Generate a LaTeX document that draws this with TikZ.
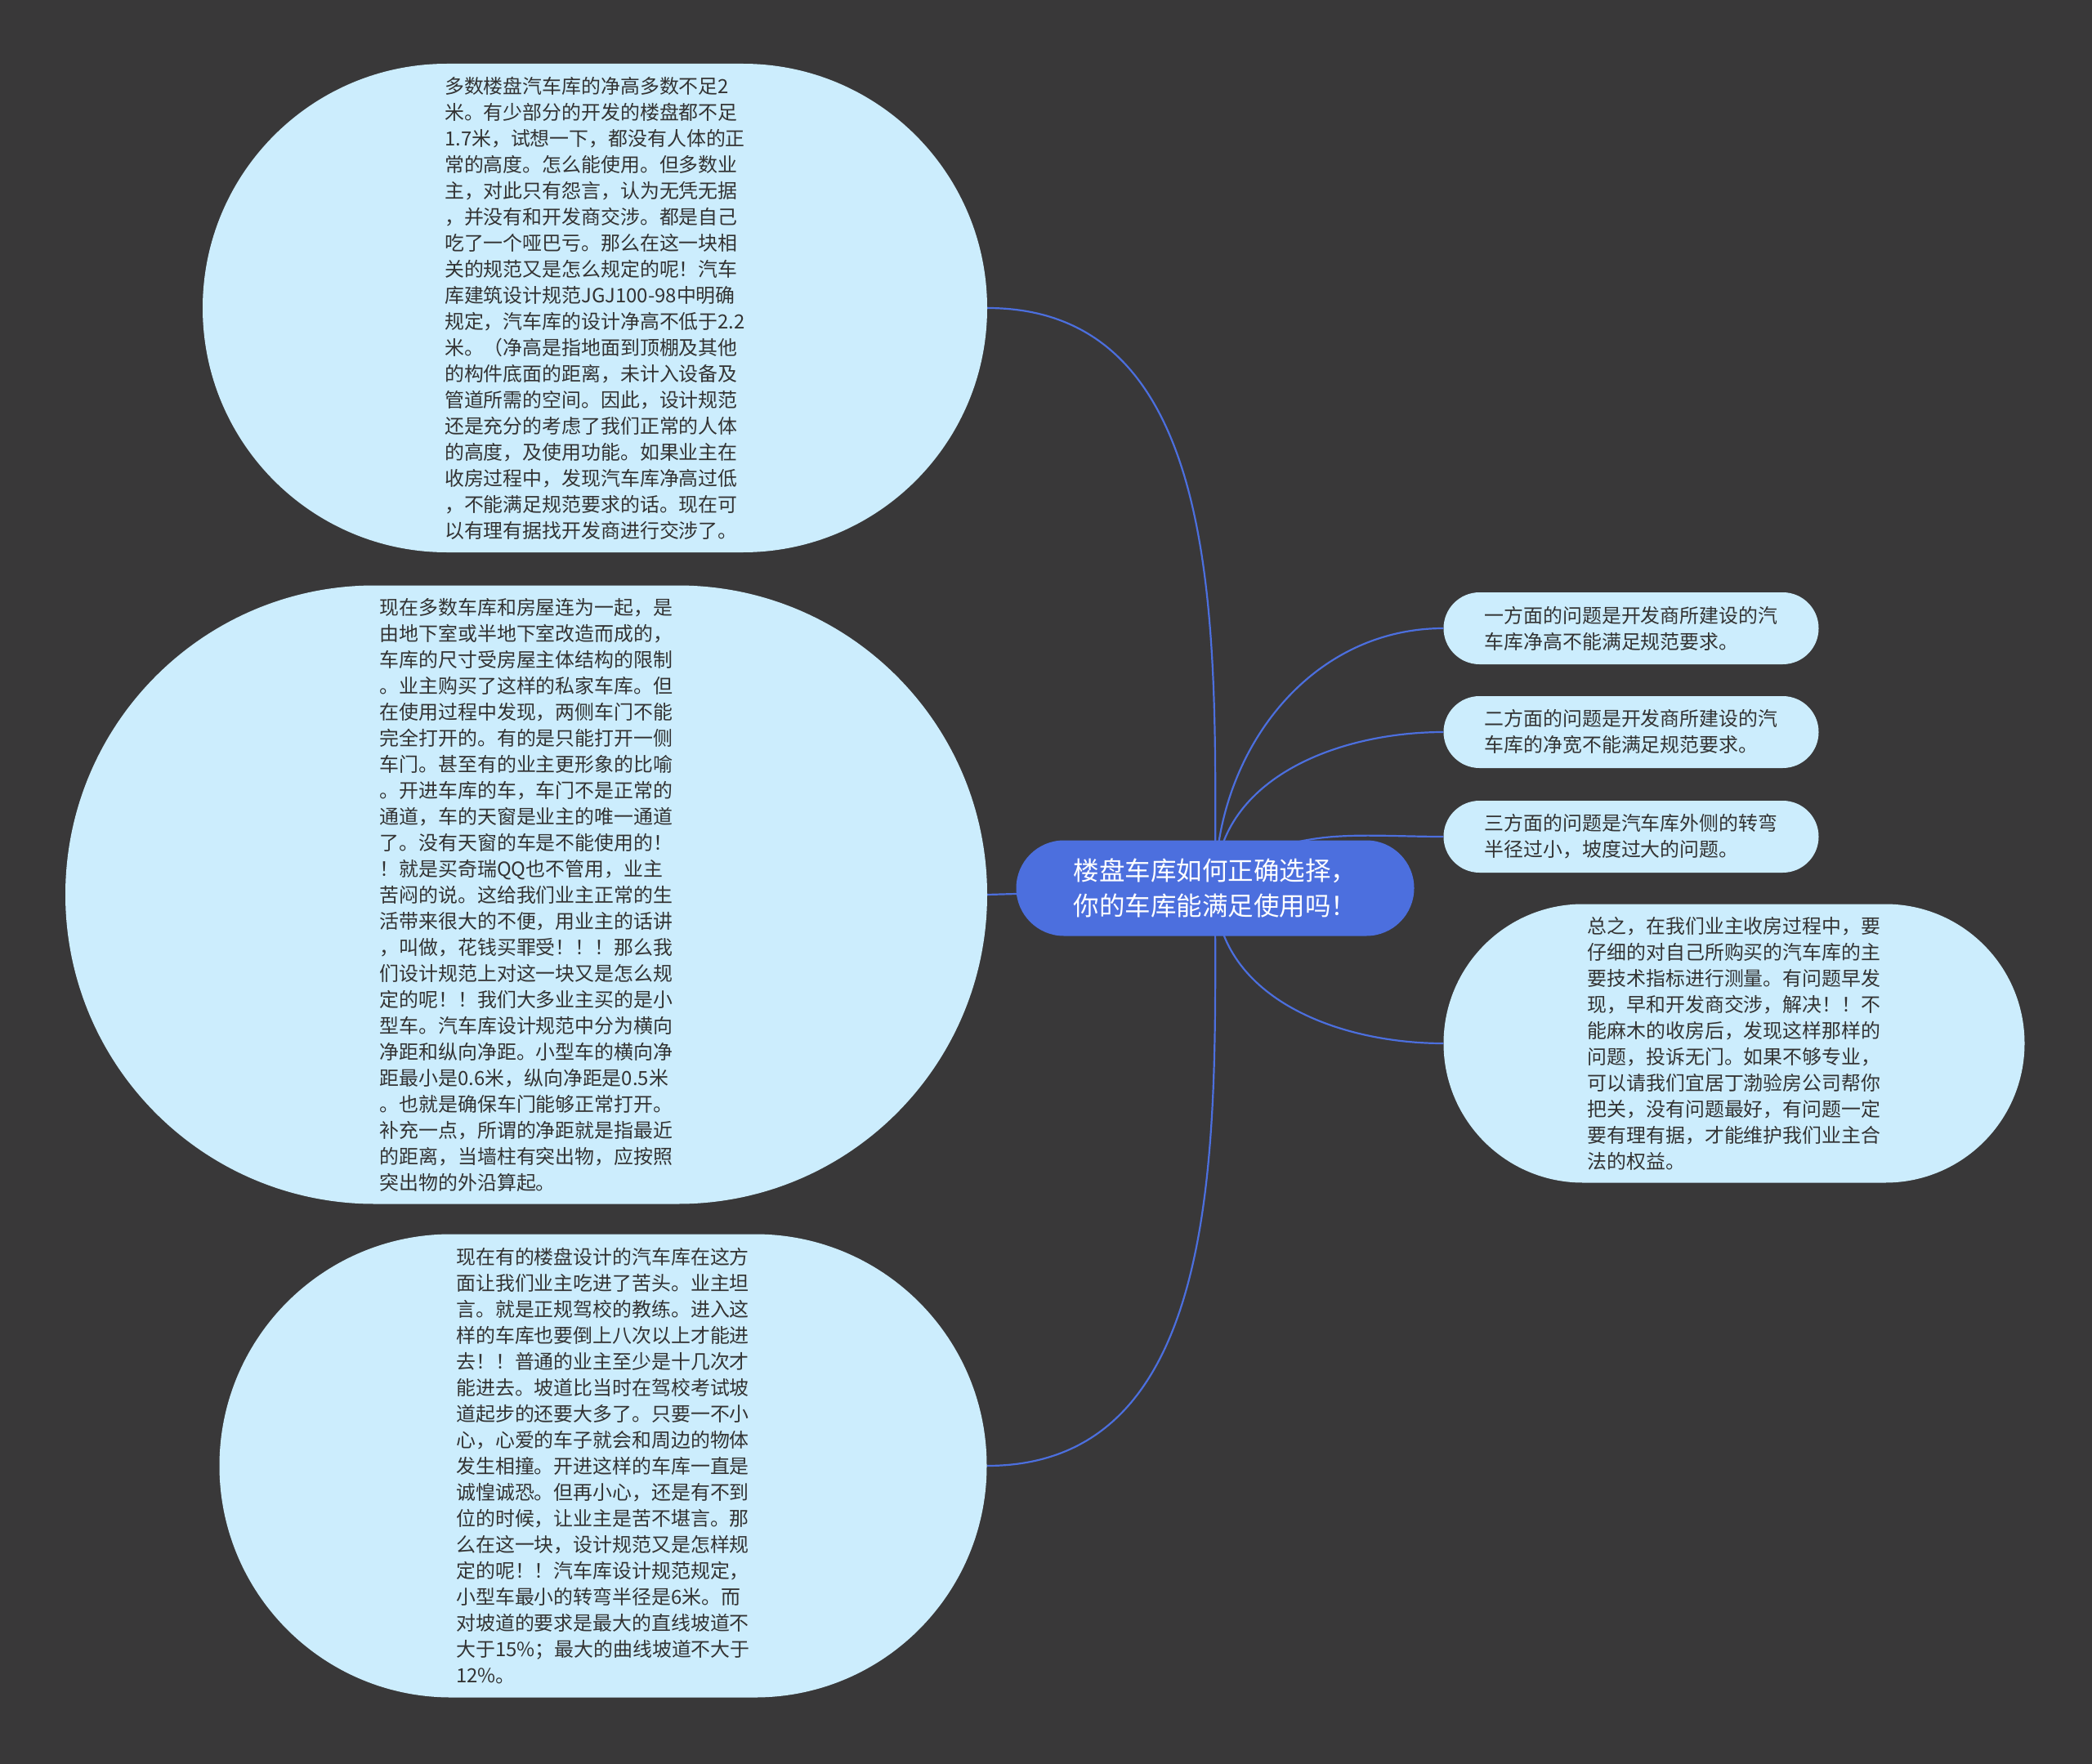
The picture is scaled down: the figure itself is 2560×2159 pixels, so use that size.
\documentclass[tikz,border=0pt]{standalone}
\usepackage{fontspec}
\setmainfont{Noto Sans CJK SC}
\usetikzlibrary{shapes.misc}
\definecolor{mapbg}{RGB}{57,56,57}
\definecolor{mapbubble}{RGB}{204,237,253}
\definecolor{mapblue}{RGB}{76,111,222}
\definecolor{maptext}{RGB}{51,51,51}
\pgfdeclarelayer{bg}
\pgfdeclarelayer{links}
\pgfsetlayers{bg,links,main}

\begin{document}
\begin{tikzpicture}[x=1pt, y=-1pt,
  bubble/.style={rounded rectangle, fill=mapbubble, text=maptext, align=left, inner sep=0pt,
    font=\fontsize{23.9}{32}\selectfont},
  topic/.style={rounded rectangle, fill=mapblue, text=white, align=left, inner sep=0pt,
    font=\fontsize{31.5}{42.5}\selectfont},
  link/.style={draw=mapblue, line width=2.2pt}]
  \begin{pgfonlayer}{bg}
    \fill[mapbg] (0,0) rectangle (2560,2159);
  \end{pgfonlayer}

  % central topic
  \node[topic, minimum width=487pt, minimum height=117pt] (topic) at (1487,1087)
    {楼盘车库如何正确选择，\\你的车库能满足使用吗！};

  % left side
  \node[bubble, minimum width=960pt, minimum height=598pt] (heightnote) at (728,377)
    {多数楼盘汽车库的净高多数不足2\\米。有少部分的开发的楼盘都不足\\1.7米，试想一下，都没有人体的正\\常的高度。怎么能使用。但多数业\\主，对此只有怨言，认为无凭无据\\，并没有和开发商交涉。都是自己\\吃了一个哑巴亏。那么在这一块相\\关的规范又是怎么规定的呢！汽车\\库建筑设计规范JGJ100-98中明确\\规定，汽车库的设计净高不低于2.2\\米。（净高是指地面到顶棚及其他\\的构件底面的距离，未计入设备及\\管道所需的空间。因此，设计规范\\还是充分的考虑了我们正常的人体\\的高度，及使用功能。如果业主在\\收房过程中，发现汽车库净高过低\\，不能满足规范要求的话。现在可\\以有理有据找开发商进行交涉了。};
  \node[bubble, minimum width=1128pt, minimum height=757pt] (widthnote) at (644,1095)
    {现在多数车库和房屋连为一起，是\\由地下室或半地下室改造而成的，\\车库的尺寸受房屋主体结构的限制\\。业主购买了这样的私家车库。但\\在使用过程中发现，两侧车门不能\\完全打开的。有的是只能打开一侧\\车门。甚至有的业主更形象的比喻\\。开进车库的车，车门不是正常的\\通道，车的天窗是业主的唯一通道\\了。没有天窗的车是不能使用的！\\！就是买奇瑞QQ也不管用，业主\\苦闷的说。这给我们业主正常的生\\活带来很大的不便，用业主的话讲\\，叫做，花钱买罪受！！！那么我\\们设计规范上对这一块又是怎么规\\定的呢！！我们大多业主买的是小\\型车。汽车库设计规范中分为横向\\净距和纵向净距。小型车的横向净\\距最小是0.6米，纵向净距是0.5米\\。也就是确保车门能够正常打开。\\补充一点，所谓的净距就是指最近\\的距离，当墙柱有突出物，应按照\\突出物的外沿算起。};
  \node[bubble, minimum width=939pt, minimum height=567pt] (turnnote) at (738,1794)
    {现在有的楼盘设计的汽车库在这方\\面让我们业主吃进了苦头。业主坦\\言。就是正规驾校的教练。进入这\\样的车库也要倒上八次以上才能进\\去！！普通的业主至少是十几次才\\能进去。坡道比当时在驾校考试坡\\道起步的还要大多了。只要一不小\\心，心爱的车子就会和周边的物体\\发生相撞。开进这样的车库一直是\\诚惶诚恐。但再小心，还是有不到\\位的时候，让业主是苦不堪言。那\\么在这一块，设计规范又是怎样规\\定的呢！！汽车库设计规范规定，\\小型车最小的转弯半径是6米。而\\对坡道的要求是最大的直线坡道不\\大于15\%；最大的曲线坡道不大于\\12\%。};

  % right side
  \node[bubble, minimum width=459pt, minimum height=88pt] (issueA) at (1996,769)
    {一方面的问题是开发商所建设的汽\\车库净高不能满足规范要求。};
  \node[bubble, minimum width=459pt, minimum height=88pt] (issueB) at (1996,896)
    {二方面的问题是开发商所建设的汽\\车库的净宽不能满足规范要求。};
  \node[bubble, minimum width=459pt, minimum height=88pt] (issueC) at (1996,1024)
    {三方面的问题是汽车库外侧的转弯\\半径过小，坡度过大的问题。};
  \node[bubble, minimum width=711pt, minimum height=341pt] (summary) at (2122,1277)
    {总之，在我们业主收房过程中，要\\仔细的对自己所购买的汽车库的主\\要技术指标进行测量。有问题早发\\现，早和开发商交涉，解决！！不\\能麻木的收房后，发现这样那样的\\问题，投诉无门。如果不够专业，\\可以请我们宜居丁渤验房公司帮你\\把关，没有问题最好，有问题一定\\要有理有据，才能维护我们业主合\\法的权益。};

  \begin{pgfonlayer}{links}
    \draw[link] (topic.center) to[out=90,in=0] (heightnote.east);
    \draw[link] (topic.center) -- (widthnote.east);
    \draw[link] (topic.center) to[out=-90,in=0] (turnnote.east);
    \draw[link] (topic.center) to[out=90,in=180] (issueA.west);
    \draw[link] (topic.center) to[out=90,in=180] (issueB.west);
    \draw[link] (topic.center) to[out=45,in=180] (issueC.west);
    \draw[link] (topic.center) to[out=-90,in=180] (summary.west);
  \end{pgfonlayer}
\end{tikzpicture}
\end{document}
